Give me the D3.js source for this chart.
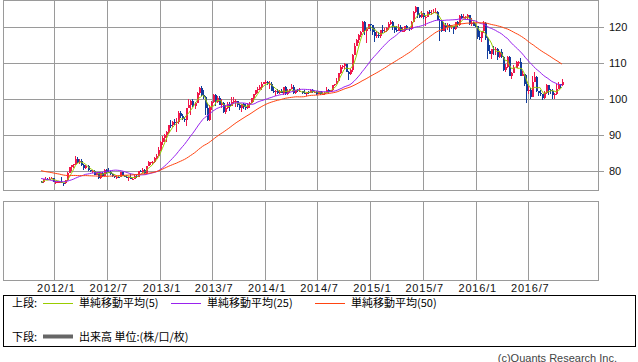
<!DOCTYPE html>
<html>
<head>
<meta charset="utf-8">
<script src="https://cdn.jsdelivr.net/npm/d3@7"></script>
<style>
  body { margin: 0; background: #fff; }
  svg { display: block; }
</style>
</head>
<body>
<svg id="chart" width="638" height="362"></svg>
<script>
// weekly candles, week starting Monday, first one 2011-11-14
const firstWeek = "2011-11-14";

// closes before the first drawn week, only used to warm up the moving averages
const earlierCloses = [83.9, 84.0, 82.9, 81.1, 83.2, 82.9, 82.5, 82.1, 81.7, 83.4, 83.1, 81.7, 82.3,
  81.8, 80.6, 81.5, 83.3, 84.6, 83.1, 81.9, 81.2, 80.6, 80.8, 81.7, 80.8, 80.3, 80.3, 80.0, 80.4,
  80.8, 81.3, 79.2, 78.4, 76.7, 78.4, 76.8, 76.6, 76.6, 76.8, 77.5, 76.8, 76.4, 77.0, 76.7, 77.0,
  76.2, 75.8, 78.1, 77.0];

// [open, high, low, close]
const w2011 = [
  [77.0,77.3,76.6,76.9],[76.9,77.9,76.6,77.7],[77.7,78.2,77.6,77.9],[77.9,78.1,77.5,77.7],
  [77.7,78.3,77.6,77.8],[77.8,78.2,77.8,78.1],[78.1,78.1,76.9,76.9]
];
const w2012 = [
  [76.9,77.2,76.3,76.9],[76.9,77.1,76.6,76.9],[76.9,77.3,76.8,77.0],[77.0,78.2,76.6,76.7],
  [76.7,76.8,75.9,76.6],[76.6,77.6,76.5,77.5],[77.5,79.7,77.3,79.5],[79.5,81.1,79.4,81.1],
  [81.1,81.7,80.0,81.7],[81.7,82.0,80.9,82.0],[82.0,84.2,81.8,83.4],[83.4,83.8,82.3,82.4],
  [82.4,83.3,81.9,82.9],[82.9,83.3,81.5,81.6],[81.6,81.9,80.4,80.9],[80.9,81.8,80.6,81.5],
  [81.5,81.6,80.0,80.2],[80.2,80.4,79.8,79.9],[79.9,80.2,79.5,79.9],[79.9,80.3,79.0,79.0],
  [79.0,79.8,78.9,79.6],[79.6,79.8,77.7,78.1],[78.1,79.8,77.9,79.5],[79.5,79.7,78.3,78.7],
  [78.7,80.6,78.7,80.3],[80.3,80.5,79.3,79.8],[79.8,80.7,79.4,79.6],[79.6,79.9,78.9,79.2],
  [79.2,79.3,78.3,78.5],[78.5,78.6,78.0,78.4],[78.4,78.8,77.9,78.4],[78.4,78.6,78.1,78.3],
  [78.3,79.6,78.2,79.6],[79.6,79.6,78.5,78.7],[78.7,78.9,78.2,78.3],[78.3,78.9,78.1,78.2],
  [78.2,78.4,77.1,78.4],[78.4,79.2,77.8,77.9],[77.9,78.1,77.4,77.9],[77.9,78.9,77.9,78.6],
  [78.6,78.8,78.0,78.4],[78.4,79.9,78.3,79.9],[79.9,80.4,79.6,79.6],[79.6,80.7,79.4,80.4],
  [80.4,80.5,79.1,79.5],[79.5,81.5,79.3,81.3],[81.3,82.8,81.3,82.4],[82.4,82.6,81.7,82.4],
  [82.4,82.8,81.8,82.4],[82.4,84.0,82.3,83.5],[83.5,84.6,83.4,84.2],[84.2,86.6,84.2,85.9],
  [85.9,88.4,85.5,88.1]
];
const w2013 = [
  [88.1,89.7,87.1,89.2],[89.2,90.2,88.0,90.1],[90.1,91.0,88.1,90.8],[90.8,92.8,90.3,92.8],
  [92.8,94.1,91.9,92.7],[92.7,94.0,92.2,93.5],[93.5,94.5,92.8,93.4],[93.4,94.8,90.9,93.6],
  [93.6,96.6,93.0,96.0],[96.0,96.7,94.7,95.2],[95.2,95.8,94.1,94.5],[94.5,94.9,93.6,94.2],
  [94.2,97.5,92.6,97.5],[97.5,99.9,97.5,98.4],[98.4,99.6,95.5,99.5],[99.5,99.9,97.8,98.0],
  [98.0,99.1,97.1,99.0],[99.0,102.0,98.8,101.6],[101.6,103.3,101.2,103.0],[103.0,103.7,100.7,101.0],
  [101.0,102.5,100.1,100.5],[100.5,100.9,95.6,97.5],[97.5,98.9,93.8,94.1],[94.1,98.4,93.9,97.9],
  [97.9,99.4,96.9,99.1],[99.1,101.5,99.0,101.2],[101.2,101.5,98.1,99.1],[99.1,100.9,98.8,100.4],
  [100.4,100.9,98.2,98.3],[98.3,99.9,97.6,98.9],[98.9,99.1,96.1,96.3],[96.3,98.4,95.8,97.5],
  [97.5,99.2,97.1,98.7],[98.7,99.1,96.8,98.1],[98.1,100.6,98.0,99.2],[99.2,100.6,98.9,99.4],
  [99.4,99.9,97.8,99.4],[99.4,99.4,97.8,98.3],[98.3,98.5,96.9,97.5],[97.5,98.7,96.5,98.6],
  [98.6,99.0,97.2,97.8],[97.8,98.5,96.9,97.4],[97.4,98.9,97.3,98.7],[98.7,99.3,97.6,99.0],
  [99.0,100.4,98.8,100.2],[100.2,101.4,99.3,101.3],[101.3,102.6,101.1,102.4],[102.4,103.4,101.6,102.9],
  [102.9,103.9,102.6,103.2],[103.2,104.6,102.6,104.1],[104.1,104.8,104.1,104.8],[104.8,105.4,104.1,104.8]
];
const w2014 = [
  [104.8,105.0,103.9,104.1],[104.1,104.9,102.9,104.3],[104.3,104.8,102.1,102.3],[102.3,103.4,101.7,102.0],
  [102.0,102.6,100.8,102.3],[102.3,102.8,101.5,101.8],[101.8,102.6,101.3,102.2],[102.2,102.7,101.7,101.8],
  [101.8,103.4,101.2,103.3],[103.3,103.7,101.2,101.3],[101.3,102.7,101.2,102.2],[102.2,102.8,101.7,102.8],
  [102.8,104.1,102.7,103.3],[103.3,103.9,101.3,101.6],[101.6,102.5,101.5,102.4],[102.4,102.7,101.9,102.1],
  [102.1,103.0,101.9,102.1],[102.1,102.2,101.4,101.8],[101.8,102.4,101.4,101.4],[101.4,102.0,100.8,101.9],
  [101.9,102.1,101.4,101.8],[101.8,102.8,101.7,102.5],[102.5,102.7,101.7,102.0],[102.0,102.3,101.6,102.0],
  [102.0,102.1,101.1,101.4],[101.4,102.2,101.3,102.1],[102.1,102.1,101.1,101.3],[101.3,101.9,101.2,101.3],
  [101.3,102.0,101.0,101.8],[101.8,103.2,101.8,102.6],[102.6,102.8,101.5,102.0],[102.0,102.5,102.0,102.4],
  [102.4,104.0,102.3,103.8],[103.8,104.2,103.5,104.1],[104.1,105.7,104.1,105.1],[105.1,107.3,105.0,107.3],
  [107.3,109.5,107.0,109.0],[109.0,109.5,108.4,109.3],[109.3,110.1,108.3,109.8],[109.8,109.8,107.6,107.6],
  [107.6,107.7,105.2,106.9],[106.9,108.4,106.6,108.1],[108.1,112.5,107.6,112.3],[112.3,115.6,112.2,114.6],
  [114.6,116.8,114.6,116.3],[116.3,118.0,115.5,117.8],[117.8,118.9,117.2,118.7],[118.7,121.8,118.6,121.4],
  [121.4,121.8,117.7,118.8],[118.8,119.6,115.6,119.5],[119.5,120.8,119.4,120.8],[120.8,120.8,118.8,120.5]
];
const w2015 = [
  [120.5,120.6,117.8,118.5],[118.5,119.6,115.9,117.5],[117.5,118.9,116.9,117.7],[117.7,118.7,116.9,117.5],
  [117.5,119.2,116.9,119.1],[119.1,120.5,118.3,118.9],[118.9,119.6,118.4,119.0],[119.0,119.9,118.6,119.6],
  [119.6,121.3,119.3,120.8],[120.8,122.0,120.6,121.4],[121.4,121.6,119.3,120.0],[120.0,120.4,118.3,119.1],
  [119.1,120.4,118.7,118.9],[118.9,120.8,118.9,120.1],[120.1,120.5,118.6,118.9],[118.9,120.1,118.7,118.9],
  [118.9,120.3,118.5,120.2],[120.2,120.5,119.2,119.8],[119.8,120.0,118.9,119.4],[119.4,121.8,119.2,121.5],
  [121.5,124.4,121.4,124.1],[124.1,125.9,123.8,125.6],[125.6,125.6,122.5,123.4],[123.4,123.9,122.5,122.7],
  [122.7,124.4,122.5,123.9],[123.9,123.9,122.1,122.8],[122.8,123.1,120.4,122.8],[122.8,124.4,122.7,124.1],
  [124.1,124.6,123.5,123.8],[123.8,124.6,123.2,123.9],[123.9,125.1,123.9,124.2],[124.2,125.3,123.8,124.3],
  [124.3,124.5,121.9,122.0],[122.0,122.2,116.2,121.7],[121.7,121.7,118.6,119.0],[119.0,121.3,119.0,120.5],
  [120.5,121.2,118.6,120.0],[120.0,121.0,119.2,120.6],[120.6,120.8,118.7,119.9],[119.9,120.6,119.4,120.2],
  [120.2,120.3,118.1,119.4],[119.4,121.5,119.1,121.4],[121.4,121.7,119.9,120.6],[120.6,123.2,120.3,123.1],
  [123.1,123.6,122.2,122.6],[122.6,123.5,122.5,122.8],[122.8,123.1,122.2,122.8],[122.8,123.7,122.2,123.2],
  [123.2,123.3,120.5,120.9],[120.9,122.6,120.3,121.2],[121.2,121.5,120.3,120.3],[120.3,120.8,120.1,120.2]
];
const w2016 = [
  [120.2,120.4,116.7,117.2],[117.2,118.8,116.5,117.0],[117.0,118.9,115.9,118.8],[118.8,121.7,118.2,121.1],
  [121.1,121.5,116.5,116.9],[116.9,117.2,111.0,113.2],[113.2,114.9,112.5,112.6],[112.6,113.4,111.0,114.0],
  [114.0,114.6,112.2,113.8],[113.8,114.5,112.2,113.8],[113.8,114.1,110.7,111.6],[111.6,113.2,111.3,113.0],
  [113.0,113.8,111.4,111.7],[111.7,111.9,107.7,108.1],[108.1,109.7,107.6,108.8],[108.8,111.9,108.5,111.8],
  [111.8,111.9,106.3,106.5],[106.5,107.5,105.5,107.1],[107.1,109.5,107.1,108.6],[108.6,110.6,108.6,110.2],
  [110.2,110.5,109.1,110.2],[110.2,111.4,106.5,106.5],[106.5,107.9,106.3,106.9],[106.9,106.9,103.6,104.1],
  [104.1,106.8,99.0,102.2],[102.2,103.6,101.5,102.5],[102.5,103.0,99.9,100.6],[100.6,106.3,100.6,104.8],
  [104.8,107.5,104.6,106.1],[106.1,106.5,102.0,102.1],[102.1,102.3,100.7,101.8],[101.8,102.5,100.9,101.3],
  [101.3,101.3,99.6,100.2],[100.2,102.1,99.9,101.8],[101.8,104.2,101.4,103.9],[103.9,104.0,101.2,102.6],
  [102.6,102.8,101.4,102.3],[102.3,102.8,100.1,101.0],[101.0,101.8,100.1,101.3],[101.3,104.1,101.2,102.9],
  [102.9,104.6,102.7,104.2],[104.2,104.3,103.1,103.8],[103.8,105.5,103.6,104.7]
];

const yTicks = [80, 90, 100, 110, 120];
const xTicks = ["2012/1", "2012/7", "2013/1", "2013/7", "2014/1", "2014/7", "2015/1", "2015/7", "2016/1", "2016/7"];
const maPeriods = [5, 25, 50];
const maNames = ["単純移動平均(5)", "単純移動平均(25)", "単純移動平均(50)"];

const maColors = ["#99cc00", "#9922ee", "#ff4411"];
const upColor = "#f0174b", downColor = "#123c9c", gridColor = "#9a9a9a";

const svg = d3.select("#chart");
const parseDay = d3.timeParse("%Y-%m-%d");
const parseTick = d3.timeParse("%Y/%m");

const weeks = [].concat(w2011, w2012, w2013, w2014, w2015, w2016);
const bars = weeks.map((d, i) => ({
  date: d3.timeDay.offset(d3.timeMonday.offset(parseDay(firstWeek), i), 2),
  open: d[0], high: d[1], low: d[2], close: d[3]
}));

const xScale = d3.scaleTime()
  .domain([new Date(2011, 6, 7), new Date(2017, 1, 28)])
  .range([3, 598]);
const yScale = d3.scaleLinear()
  .domain([74.72, 127.5])
  .range([190, 0]);

const snap = v => Math.round(v) + 0.5;

// panels
const panels = [[0, 190], [201, 280]];
panels.forEach(([t, b]) => {
  svg.append("rect")
    .attr("x", 3.5).attr("y", t + 0.5)
    .attr("width", 595).attr("height", b - t)
    .attr("fill", "none").attr("stroke", gridColor);
  svg.append("g").selectAll("line")
    .data(xTicks)
    .join("line")
    .attr("x1", d => snap(xScale(parseTick(d))))
    .attr("x2", d => snap(xScale(parseTick(d))))
    .attr("y1", t).attr("y2", b + 1)
    .attr("stroke", gridColor);
});

svg.append("g").selectAll("line")
  .data(yTicks)
  .join("line")
  .attr("x1", 3).attr("x2", 604)
  .attr("y1", d => snap(yScale(d))).attr("y2", d => snap(yScale(d)))
  .attr("stroke", gridColor);

svg.append("g").selectAll("text")
  .data(yTicks)
  .join("text")
  .attr("x", 609)
  .attr("y", d => yScale(d) + 4)
  .attr("font-family", "Liberation Sans, Arial, sans-serif")
  .attr("font-size", 11)
  .attr("fill", "#111")
  .text(d => d);

svg.append("g").selectAll("text")
  .data(xTicks)
  .join("text")
  .attr("x", d => xScale(parseTick(d)) + 2)
  .attr("y", 292)
  .attr("text-anchor", "middle")
  .attr("font-family", "Liberation Sans, Arial, sans-serif")
  .attr("font-size", 11)
  .attr("letter-spacing", 0.8)
  .attr("fill", "#111")
  .text(d => d);

// candles
const candles = svg.append("g").attr("shape-rendering", "crispEdges");
candles.selectAll("line")
  .data(bars)
  .join("line")
  .attr("x1", d => snap(xScale(d.date)))
  .attr("x2", d => snap(xScale(d.date)))
  .attr("y1", d => yScale(d.high))
  .attr("y2", d => yScale(d.low))
  .attr("stroke", d => d.close >= d.open ? upColor : downColor);
candles.selectAll("rect")
  .data(bars)
  .join("rect")
  .attr("x", d => Math.round(xScale(d.date)) - 0.5)
  .attr("width", 2)
  .attr("y", d => yScale(Math.max(d.open, d.close)))
  .attr("height", d => Math.max(1, Math.abs(yScale(d.open) - yScale(d.close))))
  .attr("fill", d => d.close >= d.open ? upColor : downColor);

// moving averages
const allCloses = earlierCloses.concat(bars.map(d => d.close));
const offset = earlierCloses.length;
maPeriods.forEach((p, k) => {
  const ma = bars.map((d, i) => {
    const end = i + offset + 1;
    return { date: d.date, v: d3.mean(allCloses.slice(Math.max(0, end - p), end)) };
  });
  svg.append("path")
    .datum(ma)
    .attr("fill", "none")
    .attr("stroke", maColors[k])
    .attr("stroke-width", 1)
    .attr("d", d3.line().x(d => xScale(d.date)).y(d => yScale(d.v)));
});

// legend
const legend = svg.append("g");
legend.append("rect")
  .attr("x", 3.5).attr("y", 295.5)
  .attr("width", 632).attr("height", 51)
  .attr("fill", "none").attr("stroke", "#000");

const jp = "Noto Sans CJK JP, sans-serif";
legend.append("text").attr("x", 12).attr("y", 307).attr("font-family", jp)
  .attr("font-size", 11).text("上段:");
legend.append("text").attr("x", 12).attr("y", 340.5).attr("font-family", jp)
  .attr("font-size", 11).text("下段:");

const legendX = [43, 171, 315];
maNames.forEach((name, k) => {
  legend.append("line")
    .attr("x1", legendX[k]).attr("x2", legendX[k] + 30)
    .attr("y1", 303.5).attr("y2", 303.5)
    .attr("stroke", maColors[k]);
  legend.append("text")
    .attr("x", legendX[k] + 36).attr("y", 307)
    .attr("font-family", jp).attr("font-size", 11)
    .text(name);
});
legend.append("line")
  .attr("x1", 43).attr("x2", 73)
  .attr("y1", 336.5).attr("y2", 336.5)
  .attr("stroke", "#666").attr("stroke-width", 4);
legend.append("text")
  .attr("x", 79).attr("y", 340.5)
  .attr("font-family", jp).attr("font-size", 11)
  .text("出来高 単位:(株/口/枚)");

svg.append("text")
  .attr("x", 617).attr("y", 361.5)
  .attr("text-anchor", "end")
  .attr("font-family", "Liberation Sans, Arial, sans-serif")
  .attr("font-size", 11)
  .attr("fill", "#444")
  .text("(c)Quants Research Inc.");
</script>
</body>
</html>
